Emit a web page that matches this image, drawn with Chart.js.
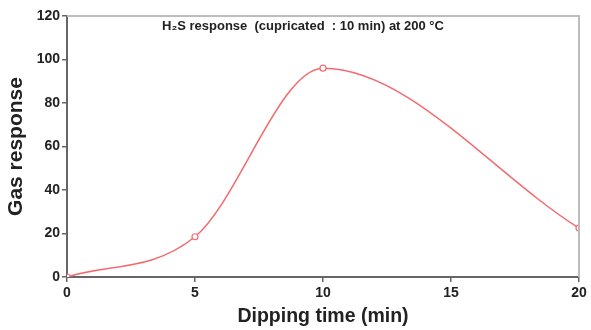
<!DOCTYPE html>
<html>
<head>
<meta charset="utf-8">
<script src="https://cdn.jsdelivr.net/npm/chart.js@4/dist/chart.umd.min.js"></script>
<style>
  html, body { margin: 0; padding: 0; background: #fff; }
  #wrap { width: 591px; height: 330px; position: relative; }
</style>
</head>
<body>
<div id="wrap"><canvas id="gasChart"></canvas></div>
<script>
var dippingTimes = [0, 5, 10, 20];
var gasResponse = [0, 18.5, 96, 22.5];
var xTicks = [0, 5, 10, 15, 20];
var yTicks = [0, 20, 40, 60, 80, 100, 120];
var insideTitle = 'H\u2082S response  (cupricated  : 10 min) at 200 \u00B0C';

var points = dippingTimes.map(function(t, i) {
    return { x: t, y: gasResponse[i] };
});

var fontFamily = '"Liberation Sans", Arial, sans-serif';

// light frame on the top and right of the plot, plus the caption inside it
var frameAndCaption = {
    id: 'frameAndCaption',
    afterDraw: function(chart) {
        var ctx = chart.ctx;
        var a = chart.chartArea;
        ctx.save();
        ctx.strokeStyle = '#bdbdbd';
        ctx.lineWidth = 2;
        ctx.beginPath();
        ctx.moveTo(a.left, a.top);
        ctx.lineTo(a.right, a.top);
        ctx.lineTo(a.right, a.bottom);
        ctx.stroke();
        ctx.fillStyle = '#222';
        ctx.font = 'bold 13px ' + fontFamily;
        ctx.textAlign = 'center';
        ctx.textBaseline = 'middle';
        ctx.fillText(insideTitle, 303, 26);
        ctx.restore();
    }
};

new Chart(document.getElementById('gasChart'), {
    type: 'scatter',
    data: {
        datasets: [{
            label: 'H2S response',
            data: points,
            showLine: true,
            borderColor: '#f46a6e',
            borderWidth: 1.5,
            cubicInterpolationMode: 'monotone',
            pointStyle: 'circle',
            pointRadius: 3,
            pointBackgroundColor: '#fff',
            pointBorderColor: '#f46a6e',
            pointBorderWidth: 1.2
        }]
    },
    options: {
        responsive: true,
        maintainAspectRatio: false,
        animation: false,
        layout: { padding: { top: 16, right: 12, left: 0, bottom: 0 } },
        plugins: {
            legend: { display: false },
            tooltip: { enabled: false }
        },
        scales: {
            x: {
                type: 'linear',
                min: 0,
                max: 20,
                afterBuildTicks: function(axis) {
                    axis.ticks = xTicks.map(function(v) { return { value: v }; });
                },
                afterFit: function(axis) { axis.height = 53; },
                grid: { drawOnChartArea: false, tickLength: 5, color: '#666', lineWidth: 1.5 },
                border: { color: '#666', width: 2 },
                ticks: {
                    color: '#222',
                    padding: 3,
                    font: { family: fontFamily, size: 14, weight: 'bold' }
                },
                title: {
                    display: true,
                    text: 'Dipping time (min)',
                    color: '#222',
                    padding: { top: 0, bottom: 2 },
                    font: { family: fontFamily, size: 19.5, weight: 'bold' }
                }
            },
            y: {
                min: 0,
                max: 120,
                afterBuildTicks: function(axis) {
                    axis.ticks = yTicks.map(function(v) { return { value: v }; });
                },
                afterFit: function(axis) { axis.width = 67; },
                grid: { drawOnChartArea: false, tickLength: 5, color: '#666', lineWidth: 1.5 },
                border: { color: '#666', width: 2 },
                ticks: {
                    color: '#222',
                    padding: 2,
                    font: { family: fontFamily, size: 14, weight: 'bold' }
                },
                title: {
                    display: true,
                    text: 'Gas response',
                    color: '#222',
                    padding: { top: 4, bottom: 0 },
                    font: { family: fontFamily, size: 21, weight: 'bold' }
                }
            }
        }
    },
    plugins: [frameAndCaption]
});
</script>
</body>
</html>
